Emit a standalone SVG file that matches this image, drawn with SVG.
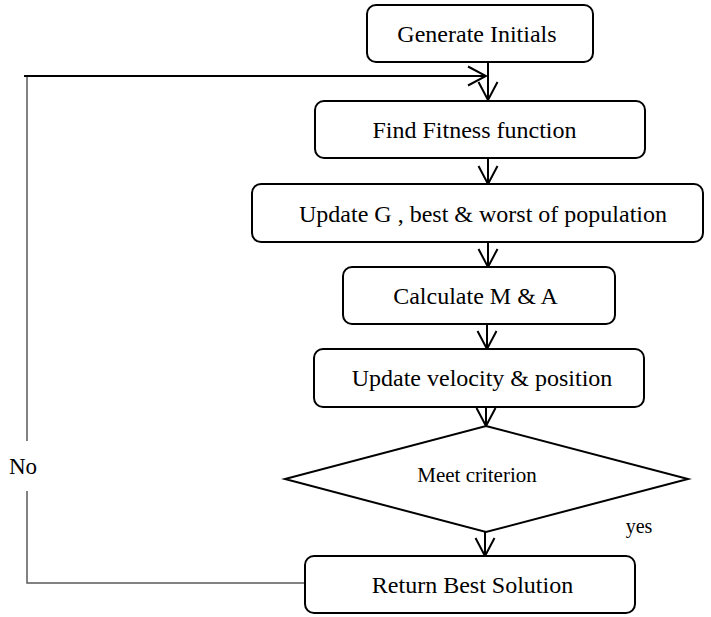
<svg xmlns="http://www.w3.org/2000/svg" width="711" height="617" viewBox="0 0 711 617">
<defs>
<marker id="arr" markerUnits="userSpaceOnUse" viewBox="-22 -12 24 24" refX="0" refY="0" markerWidth="24" markerHeight="24" orient="auto">
<path d="M-18,-9.5 L0,0 L-18,9.5" fill="none" stroke="#000" stroke-width="2"/>
</marker>
<style>
.box{fill:#fff;stroke:#000;stroke-width:2}
.t{font-family:"Liberation Serif","Times New Roman",serif;font-size:24px;fill:#000;text-anchor:middle}
.c{fill:none;stroke:#000;stroke-width:2}
.g{fill:none;stroke:#595959;stroke-width:1.5}
</style>
</defs>
<g id="connectors">
<line class="c" x1="488" y1="62" x2="488" y2="100" marker-end="url(#arr)"/>
<line class="c" x1="24" y1="76" x2="486" y2="76" marker-end="url(#arr)"/>
<line class="c" x1="488" y1="158" x2="488" y2="184" marker-end="url(#arr)"/>
<line class="c" x1="488" y1="242" x2="488" y2="267" marker-end="url(#arr)"/>
<line class="c" x1="487" y1="324" x2="487" y2="349" marker-end="url(#arr)"/>
<line class="c" x1="486" y1="407" x2="486" y2="426" marker-end="url(#arr)"/>
<line class="c" x1="485" y1="532" x2="485" y2="556" marker-end="url(#arr)"/>
<polyline class="g" points="27,77 27,441"/>
<polyline class="g" points="27,491 27,583 305,583"/>
<text x="23" y="474" class="t" style="font-size:23px">No</text>
<text x="639" y="533" class="t" style="font-size:20px">yes</text>
</g>
<g id="n1">
<rect class="box" x="367" y="5" width="226" height="57" rx="9"/>
<text x="477" y="42" class="t">Generate Initials</text>
</g>
<g id="n2">
<rect class="box" x="315" y="101" width="330" height="57" rx="9"/>
<text x="474.5" y="138" class="t">Find Fitness function</text>
</g>
<g id="n3">
<rect class="box" x="252" y="184" width="451" height="58" rx="9"/>
<text x="483" y="222" class="t">Update G , best &amp; worst of population</text>
</g>
<g id="n4">
<rect class="box" x="343" y="267" width="272" height="57" rx="9"/>
<text x="475.5" y="304" class="t">Calculate M &amp; A</text>
</g>
<g id="n5">
<rect class="box" x="314" y="349" width="330" height="58" rx="9"/>
<text x="482" y="386" class="t">Update velocity &amp; position</text>
</g>
<g id="n6">
<polygon class="box" points="486,426 688,479 486,532 285,479"/>
<text x="477" y="482" class="t" style="font-size:21px">Meet criterion</text>
</g>
<g id="n7">
<rect class="box" x="305" y="556" width="330" height="57" rx="9"/>
<text x="472.5" y="593" class="t">Return Best Solution</text>
</g>
</svg>
